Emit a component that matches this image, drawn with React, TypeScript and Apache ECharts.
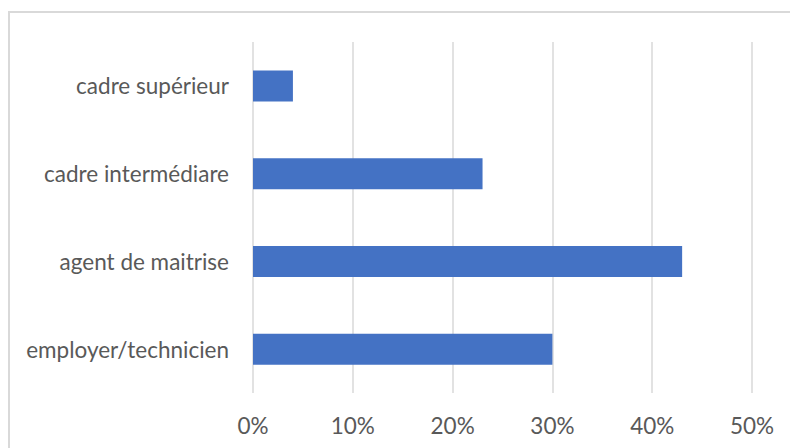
import React, { useEffect, useRef } from "react";
import * as echarts from "echarts";

const categories = ["cadre supérieur", "cadre intermédiare", "agent de maitrise", "employer/technicien"];
const values = [4, 23, 43, 30];
const xTicks = { min: 0, max: 50, interval: 10 };

export default function App() {
  const ref = useRef<HTMLDivElement>(null);
  useEffect(() => {
    const chart = echarts.init(ref.current!, null, { renderer: "svg" });
    const font = "Lato, 'Noto Sans', sans-serif";
    chart.setOption({
      animation: false,
      backgroundColor: "#ffffff",
      graphic: [
        {
          type: "rect",
          shape: { x: 9, y: 12, width: 800, height: 500 },
          style: { fill: "none", stroke: "#d9d9d9", lineWidth: 2 },
          silent: true,
        },
      ],
      grid: { left: 253, right: 38, top: 42, bottom: 55, containLabel: false },
      xAxis: {
        type: "value",
        min: xTicks.min,
        max: xTicks.max,
        interval: xTicks.interval,
        axisLine: { show: false },
        axisTick: { show: false },
        splitLine: { show: true, lineStyle: { color: "#d9d9d9", width: 1.5 } },
        axisLabel: {
          formatter: "{value}%",
          color: "#595959",
          fontSize: 22.5,
          fontFamily: font,
          margin: 21,
        },
      },
      yAxis: {
        type: "category",
        data: categories,
        inverse: true,
        axisLine: { show: false },
        axisTick: { show: false },
        splitLine: { show: false },
        axisLabel: {
          color: "#595959",
          fontSize: 22.5,
          fontFamily: font,
          margin: 24,
        },
      },
      series: [
        {
          type: "bar",
          data: values,
          barWidth: 31,
          itemStyle: { color: "#4472C4" },
        },
      ],
    });
    return () => chart.dispose();
  }, []);
  return (
    <div
      ref={ref}
      style={{ position: "fixed", left: 0, top: 0, width: 790, height: 448 }}
    />
  );
}
